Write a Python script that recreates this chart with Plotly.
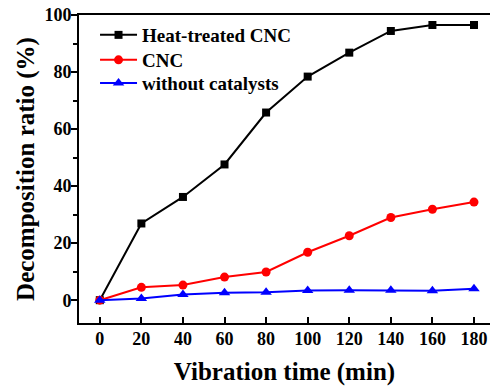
import plotly.graph_objects as go

time_min = [0, 20, 40, 60, 80, 100, 120, 140, 160, 180]
heat_treated_cnc = [0, 26.9, 36.2, 47.6, 65.8, 78.4, 86.8, 94.4, 96.5, 96.5]
cnc = [0, 4.5, 5.3, 8.1, 9.9, 16.8, 22.6, 29.0, 31.9, 34.4]
without_catalysts = [0, 0.6, 2.0, 2.6, 2.8, 3.4, 3.5, 3.5, 3.3, 4.0]
x_ticks = [0, 20, 40, 60, 80, 100, 120, 140, 160, 180]
y_ticks = [0, 20, 40, 60, 80, 100]
y_minor = [10, 30, 50, 70, 90]

font_family = "Liberation Serif"

fig = go.Figure()
fig.add_trace(go.Scatter(x=time_min, y=heat_treated_cnc, name="<b>Heat-treated CNC</b>",
                         mode="lines+markers", line=dict(color="black", width=2),
                         marker=dict(symbol="square", size=8, color="black"),
                         legend="legend"))
fig.add_trace(go.Scatter(x=time_min, y=cnc, name="<b>CNC</b>",
                         mode="lines+markers", line=dict(color="#ff0000", width=2),
                         marker=dict(symbol="circle", size=9, color="#ff0000"),
                         legend="legend2"))
fig.add_trace(go.Scatter(x=time_min, y=without_catalysts, name="<b>without catalysts</b>",
                         mode="lines+markers", line=dict(color="#0000ff", width=2),
                         marker=dict(symbol="triangle-up", size=10, color="#0000ff"),
                         legend="legend3"))

leg_common = dict(x=0.039, xanchor="left", yanchor="middle",
                  bgcolor="rgba(0,0,0,0)", font=dict(size=19, family=font_family),
                  itemwidth=37)

fig.update_layout(
    width=490, height=390,
    margin=dict(l=79, r=0, t=15, b=67),
    paper_bgcolor="white", plot_bgcolor="white",
    font=dict(family=font_family, color="black", size=18),
    legend=dict(y=0.935, **leg_common),
    legend2=dict(y=0.854, **leg_common),
    legend3=dict(y=0.779, **leg_common),
    showlegend=True,
)
fig.update_xaxes(
    range=[-10, 187.7], tickvals=x_ticks,
    ticktext=["<b>%d</b>" % v for v in x_ticks],
    ticks="inside", ticklen=6, tickwidth=2, tickcolor="black",
    showline=True, linewidth=2, linecolor="black", mirror=True,
    showgrid=False, zeroline=False, ticklabelstandoff=-2,
    title=dict(text="<b>Vibration time (min)</b>", font=dict(size=25), standoff=15),
    tickfont=dict(size=18),
)
fig.update_yaxes(
    range=[-8, 100], tickvals=y_ticks,
    ticktext=["<b>%d</b>" % v for v in y_ticks],
    ticks="outside", ticklen=6, tickwidth=2, tickcolor="black",
    minor=dict(tickvals=y_minor, ticks="outside", ticklen=4, tickwidth=2, tickcolor="black"),
    showline=True, linewidth=2, linecolor="black", mirror=False,
    showgrid=False, zeroline=False, ticklabelstandoff=-4,
    title=dict(text="<b>Decomposition ratio (%)</b>", font=dict(size=25), standoff=3),
    tickfont=dict(size=18),
)

fig.write_html("out.html")
